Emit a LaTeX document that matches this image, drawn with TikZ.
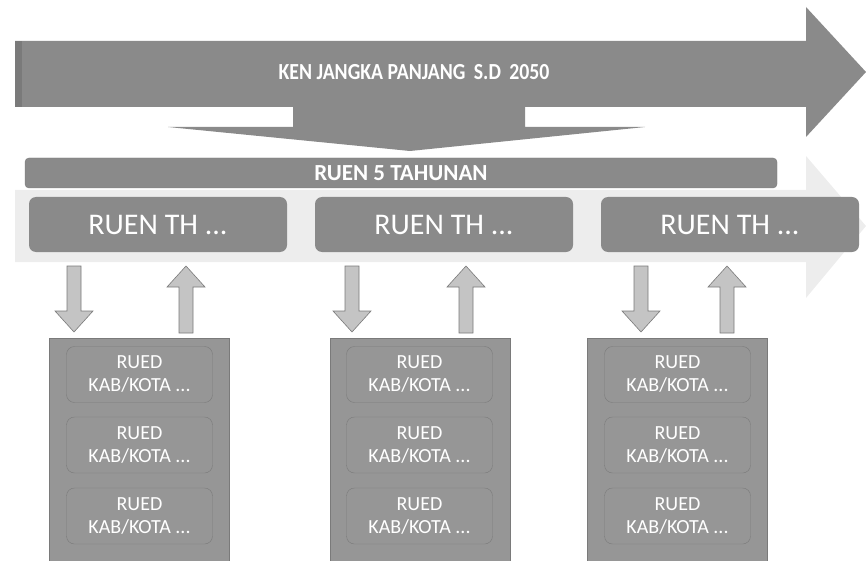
\documentclass[tikz,border=0pt]{standalone}
\usepackage{fontspec}
\setmainfont{Carlito}
\newfontfamily\cond[FakeStretch=0.86]{Carlito}
\definecolor{dark}{HTML}{8A8A8A}
\definecolor{mid}{HTML}{969696}
\definecolor{faint}{HTML}{EDEDED}
\definecolor{small}{HTML}{C4C4C4}
\definecolor{edge}{HTML}{7A7A7A}
\tikzset{
  bar/.style={fill=dark, draw=edge, rounded corners=4pt},
  thbox/.style={fill=dark, rounded corners=7pt, minimum width=258pt, minimum height=55pt, text=white, font=\fontsize{30}{32}\selectfont},
  col/.style={fill=mid, draw=edge, minimum width=180pt, minimum height=223pt, anchor=north west},
  inner/.style={draw=edge, rounded corners=8pt, minimum width=146pt, minimum height=56pt, inner sep=1pt, text=white, align=center, font=\fontsize{20}{23}\selectfont},
  thin/.style={fill=small, draw=edge, line width=0.6pt}
}
\begin{document}
\begin{tikzpicture}[x=1pt,y=-1pt]
\useasboundingbox (0,0) rectangle (866,561);
% faint background arrow
\fill[faint] (15,190) -- (806,190) -- (806,156) -- (866,226) -- (806,298) -- (806,262) -- (15,262) -- cycle;
% big arrow
\fill[dark] (15,41) -- (806,41) -- (806,7) -- (866,72) -- (806,137) -- (806,107) -- (15,107) -- cycle;
\fill[edge] (15,41) rectangle (22,107);
\node[text=white, font=\cond\bfseries\fontsize{23}{25}\selectfont] (ken) at (414,72) {KEN JANGKA PANJANG\, S.D\, 2050};
% chevron down
\fill[dark] (293,107) -- (525,107) -- (525,127) -- (645,127) -- (410,151) -- (168,127) -- (293,127) -- cycle;
% RUEN 5 TAHUNAN bar
\node[bar, minimum width=752pt, minimum height=30pt, text=white, font=\bfseries\fontsize{23}{25}\selectfont] (r5) at (401,173) {RUEN 5 TAHUNAN};
% RUEN TH boxes
\node[thbox] (t1) at (158,224.5) {RUEN TH ...};
\node[thbox] (t2) at (444,224.5) {RUEN TH ...};
\node[thbox] (t3) at (730,224.5) {RUEN TH ...};
% columns
\foreach \i/\x/\ix in {1/49/67, 2/330/347, 3/587/605} {
  \node[col] (c\i) at (\x,338) {};
  \node[inner] (c\i a) at (\ix+72.5,374.5) {RUED\\KAB/KOTA ...};
  \node[inner] (c\i b) at (\ix+72.5,445) {RUED\\KAB/KOTA ...};
  \node[inner] (c\i c) at (\ix+72.5,516) {RUED\\KAB/KOTA ...};
}
% small arrows
\foreach \d/\u in {74/186, 352/466, 641/727} {
  \draw[thin] (\d-7,266) -- (\d+7,266) -- (\d+7,311) -- (\d+19,311) -- (\d,332) -- (\d-19,311) -- (\d-7,311) -- cycle;
  \draw[thin] (\u-7,333) -- (\u+7,333) -- (\u+7,287) -- (\u+19,287) -- (\u,266) -- (\u-19,287) -- (\u-7,287) -- cycle;
}
\end{tikzpicture}
\end{document}
